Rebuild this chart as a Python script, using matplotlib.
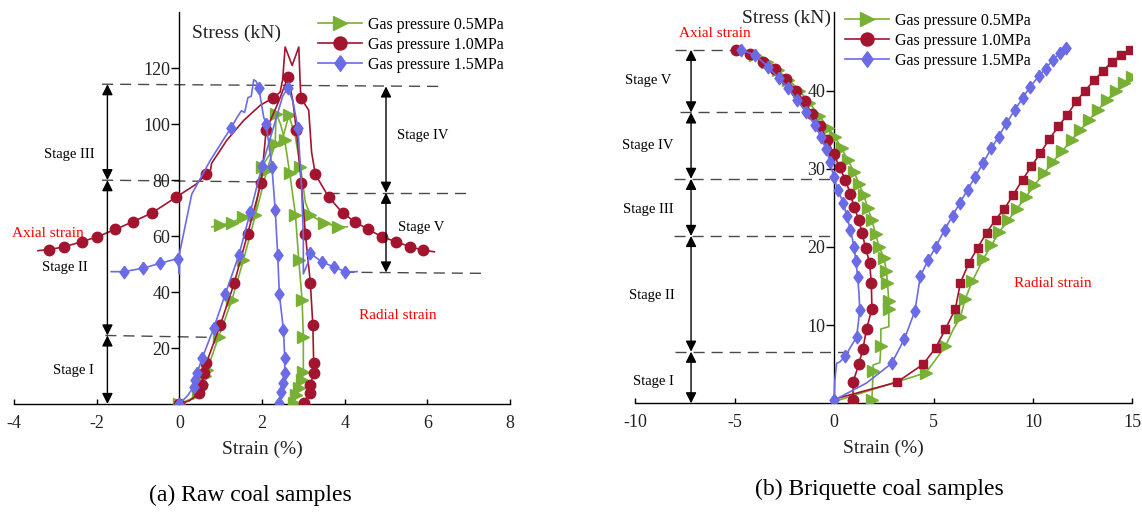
import matplotlib

matplotlib.use("Agg")

import matplotlib.pyplot as plt

plt.rcParams["font.family"] = ["Liberation Serif", "DejaVu Serif"]
plt.rcParams["axes.unicode_minus"] = False

GREEN = "#78B034"
RED = "#A3142F"
BLUE = "#6B6BE6"
LABELS = ["Gas pressure 0.5MPa", "Gas pressure 1.0MPa", "Gas pressure 1.5MPa"]
DIAMOND = [(0, 1), (0.72, 0), (0, -1), (-0.72, 0), (0, 1)]

# ---------------- (a) Raw coal samples ----------------
A_G1_X = [0, 0.3, 0.45, 0.55, 0.62, 0.67, 0.95, 1.27, 1.55, 1.84, 2.12, 2.32, 2.34, 2.45,
          2.55, 2.67, 2.81, 2.89, 2.97, 3.0, 3.0, 2.97, 2.89, 2.83, 2.77]
A_G1_Y = [0, 2, 4, 7, 10, 12, 24, 37.1, 51.4, 67.5, 83.6, 93.1, 103.8, 100,
          94.3, 82.6, 67.5, 51.4, 37.1, 24, 11.5, 8.6, 5.6, 3.2, 0.3]
A_G1_M = [1, 0, 1, 1, 1, 1, 1, 1, 1, 1, 1, 1, 1, 0, 1, 1, 1, 1, 1, 1, 1, 1, 1, 1, 1]

A_G2_X = [0.79, 0.99, 1.27, 1.54, 1.84, 2.0, 2.3, 2.5, 2.65, 2.8, 2.93, 3.05, 3.17, 3.49, 3.85, 4.06]
A_G2_Y = [63.3, 63.9, 64.8, 66.9, 68.5, 84.8, 92.0, 95.0, 103.2, 96.0, 84.8, 72.0, 67.5, 64.8, 63.3, 63.3]
A_G2_M = [0, 1, 1, 1, 0, 1, 0, 0, 1, 0, 1, 0, 1, 1, 1, 0]

A_R1_X = [0, 0.25, 0.47, 0.55, 0.59, 0.65, 0.99, 1.33, 1.65, 1.98, 2.1, 2.4, 2.63, 2.75,
          2.83, 2.95, 3.05, 3.17, 3.23, 3.25, 3.25, 3.17, 3.15, 3.01]
A_R1_Y = [0, 1.2, 3.8, 6.8, 11, 14.5, 28.2, 43.3, 60.7, 79, 97.9, 108, 116.9, 108,
          97.9, 79, 60.7, 43.3, 28.2, 14.8, 11, 6.8, 3.8, 0.5]
A_R1_M = [1, 0, 1, 1, 1, 1, 1, 1, 1, 1, 1, 0, 1, 0, 1, 1, 1, 1, 1, 1, 1, 1, 1, 1]

A_R2_X = [-3.42, -3.15, -2.78, -2.36, -1.98, -1.55, -1.13, -0.66, -0.07, 0.4,
          0.65, 0.72, 0.78, 1.15, 1.56, 1.96, 2.27, 2.44, 2.5, 2.56,
          2.73, 2.89, 2.92, 2.94, 3.13, 3.2, 3.29, 3.61, 3.95, 4.25,
          4.57, 4.9, 5.24, 5.59, 5.89, 6.17]
A_R2_Y = [54.8, 55.2, 56.2, 58.0, 59.8, 62.4, 65.1, 68.3, 74.0, 78.5,
          82.1, 80.5, 86, 94.3, 101.4, 106.8, 109.4, 111.5, 116, 127.6,
          121, 127.6, 116, 109.4, 105, 90, 82.1, 74.0, 68.3, 65.1,
          62.4, 59.8, 58.0, 56.2, 55.0, 54.4]
A_R2_M = [0, 1, 1, 1, 1, 1, 1, 1, 1, 0,
          1, 0, 0, 0, 0, 0, 1, 0, 0, 0,
          0, 0, 0, 1, 0, 0, 1, 1, 1, 1,
          1, 1, 1, 1, 1, 0]

A_B1_X = [-1.65, -1.35, -0.89, -0.46, -0.04, 0.0, 0.0, 0.3, 0.75, 1.11,
          1.25, 1.4, 1.5, 1.58, 1.66, 1.74, 1.8, 1.86, 1.92, 2.04,
          2.1, 2.24, 2.32, 2.38, 2.42, 2.52, 2.55, 2.55, 2.52, 2.47, 2.4]
A_B1_Y = [47.3, 47.3, 48.5, 50.3, 52.0, 46.5, 53.5, 75.0, 87.1, 95.5,
          98.7, 102.5, 104.8, 104.2, 109.5, 110.0, 115.9, 115.3, 113.1, 102.6,
          100.0, 84.8, 69.3, 53.2, 39.2, 26.4, 16.3, 11.0, 7.6, 4.4, 0.5]
A_B1_M = [0, 1, 1, 1, 1, 0, 0, 0, 0, 0,
          1, 0, 0, 0, 0, 0, 0, 0, 1, 0,
          1, 1, 1, 1, 1, 1, 1, 1, 1, 1, 1]

A_B2_X = [0, 0.2, 0.35, 0.39, 0.43, 0.55, 0.83, 1.11, 1.44, 1.72,
          2.0, 2.3, 2.5, 2.63, 2.75, 2.87, 2.95, 3.0, 3.0, 3.1,
          3.17, 3.45, 3.73, 4.02, 4.3]
A_B2_Y = [0, 3, 6.2, 8.6, 11, 16.3, 27, 39.2, 53.2, 68.7,
          85, 100, 110, 113.1, 108, 98.7, 80, 60, 46.5, 50,
          53.8, 50.8, 49.0, 47.3, 47.3]
A_B2_M = [1, 0, 1, 1, 1, 1, 1, 1, 1, 1,
          1, 0, 0, 1, 0, 1, 0, 0, 0, 0,
          1, 1, 1, 1, 0]

# stage boundaries (x0, x1, y0, y1) and arrows (x, y_top, y_bottom)
A_DASHES = [(-1.87, 6.43, 114.3, 113.5), (-1.87, 1.89, 80.0, 79.4), (3.15, 6.94, 75.5, 75.5),
            (3.97, 7.33, 47.1, 46.7), (-1.79, 0.85, 24.5, 23.8)]
A_ARROWS = [(-1.74, 114.3, 80.0), (-1.74, 80.0, 24.5), (-1.74, 24.5, 0.0),
            (5.0, 113.5, 75.5), (5.0, 75.5, 47.0)]
A_STAGES = [("Stage III", -2.65, 89.3), ("Stage II", -2.78, 48.9), ("Stage I", -2.56, 11.8),
            ("Stage IV", 5.9, 96.0), ("Stage V", 5.86, 63.0)]

# ---------------- (b) Briquette coal samples ----------------
B_G1_X = [-4.6, -4.0, -3.4, -2.85, -2.3, -1.75, -1.25, -0.75, -0.3, 0.05,
          0.37, 0.69, 1.0, 1.24, 1.49, 1.69, 1.9, 2.08, 2.26, 2.5,
          2.63, 2.68, 2.75, 2.75, 2.75, 2.35, 2.35, 2.3, 1.96, 1.96, 1.9]
B_G1_Y = [45.2, 44.6, 43.6, 42.6, 41.4, 40.0, 38.4, 36.8, 35.2, 34.0,
          32.6, 31.1, 29.6, 28.1, 26.6, 25.0, 23.4, 21.7, 20.0, 18.6,
          16.9, 15.4, 13.1, 12.0, 9.8, 9.5, 7.3, 5.2, 4.9, 4.1, 0.4]
B_G1_M = [0, 1, 1, 1, 1, 1, 1, 1, 1, 1,
          1, 1, 1, 1, 1, 1, 1, 1, 1, 1,
          1, 1, 1, 1, 0, 0, 1, 0, 0, 1, 1]

B_R1_X = [-4.95, -4.22, -3.56, -2.97, -2.43, -1.94, -1.49, -1.11, -0.71, -0.35,
          -0.03, 0.28, 0.55, 0.82, 1.0, 1.24, 1.4, 1.58, 1.78, 1.87,
          1.9, 1.63, 1.45, 1.24, 0.95, 0.95]
B_R1_Y = [45.2, 44.7, 43.7, 42.7, 41.5, 40.0, 38.6, 37.0, 35.4, 33.7,
          31.9, 30.2, 28.6, 26.8, 25.1, 23.5, 21.8, 19.9, 18.0, 15.4,
          12.1, 9.5, 7.0, 5.0, 2.7, 0.4]
B_R1_M = [1] * 26

B_B1_X = [-4.7, -3.96, -3.32, -2.79, -2.3, -1.89, -1.43, -0.98, -0.67, -0.4,
          -0.2, -0.03, 0.19, 0.46, 0.64, 0.82, 1.0, 1.09, 1.18, 1.25,
          1.29, 1.13, 0.55, 0.29, 0.12, 0.03, 0.0]
B_B1_Y = [45.2, 44.5, 43.0, 41.6, 40.3, 38.8, 37.3, 35.6, 34.1, 32.5,
          30.8, 29.0, 27.3, 25.6, 23.9, 22.2, 20.0, 18.2, 16.2, 14.0,
          11.9, 8.5, 6.0, 5.3, 5.1, 2.8, 0.4]
B_B1_M = [1, 1, 1, 1, 1, 1, 1, 1, 1, 1,
          1, 1, 1, 1, 1, 1, 1, 1, 1, 0,
          1, 1, 1, 0, 0, 0, 1]

B_G2_X = [0.1, 4.61, 5.6, 6.0, 6.35, 6.59, 6.95, 7.49, 7.91, 8.3, 8.75, 9.2, 9.65,
          10.07, 10.56, 11.0, 11.46, 11.95, 12.36, 12.81, 13.26, 13.71, 14.16, 14.58, 14.98]
B_G2_Y = [0.3, 3.9, 7.3, 9.5, 11.0, 13.3, 15.6, 18.4, 20.2, 21.9, 23.4, 24.9, 26.4,
          27.9, 29.4, 30.9, 32.2, 33.7, 34.9, 36.2, 37.5, 38.8, 39.9, 41.0, 41.7]
B_G2_M = [0, 1, 1, 0] + [1] * 21

B_R2_X = [0.1, 3.16, 4.48, 5.11, 5.6, 6.1, 6.35, 6.77, 7.22, 7.67, 8.12, 8.57, 9.02,
          9.48, 9.92, 10.38, 10.83, 11.28, 11.73, 12.18, 12.63, 13.08, 13.53, 13.98, 14.43, 14.88]
B_R2_Y = [0.6, 2.7, 5.0, 7.1, 9.5, 12.1, 15.4, 17.9, 19.9, 21.8, 23.5, 24.9, 26.7,
          28.6, 30.3, 32.0, 33.8, 35.4, 36.9, 38.6, 40.0, 41.3, 42.5, 43.7, 44.5, 45.2]
B_R2_M = [0] + [1] * 25

B_B2_X = [0.0, 1.63, 2.89, 3.53, 4.06, 4.34, 4.73, 5.11, 5.56, 5.96, 6.32, 6.71, 7.1,
          7.49, 7.91, 8.27, 8.66, 9.08, 9.48, 9.83, 10.29, 10.64, 11.0, 11.37, 11.64]
B_B2_Y = [0.4, 2.6, 5.1, 8.2, 11.8, 16.3, 18.3, 20.0, 22.2, 24.0, 25.6, 27.3, 29.0,
          30.7, 32.6, 34.1, 35.8, 37.5, 39.0, 40.4, 41.8, 42.8, 43.9, 44.8, 45.4]
B_B2_M = [0, 0] + [1] * 23

B_DASHES = [(-8.0, -5.0, 45.2, 45.2), (-7.77, -1.7, 37.2, 37.2), (-8.06, 0.0, 28.7, 28.7),
            (-8.06, 0.0, 21.4, 21.4), (-8.0, 0.8, 6.6, 6.6)]
B_ARROWS = [(-7.2, 45.2, 37.2), (-7.2, 37.2, 28.7), (-7.2, 28.7, 21.4),
            (-7.2, 21.4, 6.6), (-7.2, 6.6, 0.0)]
B_STAGES = [("Stage V", -9.36, 41.3), ("Stage IV", -9.36, 33.0), ("Stage III", -9.36, 24.8),
            ("Stage II", -9.18, 13.8), ("Stage I", -9.1, 2.85)]


def curve(ax, x, y, m, color, marker, ms, label=None):
    ax.plot(x, y, color=color, lw=1.2, marker=marker, ms=ms, mec=color, mfc=color,
            markevery=[bool(v) for v in m], label=label, zorder=3)


def style(ax, xlim, ylim, xticks, yticks):
    ax.set_xlim(*xlim)
    ax.set_ylim(*ylim)
    for s in ("top", "right"):
        ax.spines[s].set_visible(False)
    ax.spines["left"].set_position(("data", 0))
    for s in ("left", "bottom"):
        ax.spines[s].set_linewidth(1.0)
    ax.set_xticks(xticks)
    ax.set_yticks(yticks)
    ax.tick_params(axis="x", direction="in", length=3.4, width=1, pad=8,
                   labelsize=13, labelcolor="#222222")
    ax.tick_params(axis="y", direction="out", length=5.5, width=1, pad=1,
                   labelsize=13, labelcolor="#222222")
    ax.set_xlabel("Strain (%)", fontsize=14, labelpad=6, color="#222222")


def stages(ax, dashes, arrows, texts):
    for x0, x1, y0, y1 in dashes:
        ax.plot([x0, x1], [y0, y1], color="#4a4a4a", lw=1.0, dashes=(8, 5), zorder=1)
    for x, yt, yb in arrows:
        ax.annotate("", xy=(x, yt), xytext=(x, yb),
                    arrowprops=dict(arrowstyle="<|-|>", color="black", lw=1.0,
                                    mutation_scale=16, shrinkA=0, shrinkB=0))
    for t, x, y in texts:
        ax.text(x, y, t, fontsize=10.5, ha="center", va="center", clip_on=False)


fig = plt.figure(figsize=(11.42, 5.12), dpi=100)
W, H = 1142, 512
ax1 = fig.add_axes([14 / W, (H - 404) / H, 496 / W, 391.7 / H])
ax2 = fig.add_axes([635.4 / W, (H - 403.3) / H, 496.9 / W, 391 / H])

# panel (a)
curve(ax1, A_G1_X, A_G1_Y, A_G1_M, GREEN, ">", 8, LABELS[0])
curve(ax1, A_G2_X, A_G2_Y, A_G2_M, GREEN, ">", 8)
curve(ax1, A_R1_X, A_R1_Y, A_R1_M, RED, "o", 7.5, LABELS[1])
curve(ax1, A_R2_X, A_R2_Y, A_R2_M, RED, "o", 7.5)
curve(ax1, A_B1_X, A_B1_Y, A_B1_M, BLUE, DIAMOND, 9)
curve(ax1, A_B2_X, A_B2_Y, A_B2_M, BLUE, DIAMOND, 9, LABELS[2])
style(ax1, (-4, 8), (0, 140), [-4, -2, 0, 2, 4, 6, 8], [20, 40, 60, 80, 100, 120])
stages(ax1, A_DASHES, A_ARROWS, A_STAGES)
ax1.text(1.39, 132.6, "Stress (kN)", fontsize=14, ha="center", va="center", color="#222222")
ax1.text(-3.17, 61, "Axial strain", fontsize=11, color="red", ha="center", va="center")
ax1.text(5.28, 31.7, "Radial strain", fontsize=11, color="red", ha="center", va="center")

# panel (b)
curve(ax2, B_G1_X, B_G1_Y, B_G1_M, GREEN, ">", 8, LABELS[0])
curve(ax2, B_G2_X, B_G2_Y, B_G2_M, GREEN, ">", 8)
curve(ax2, B_R1_X, B_R1_Y, B_R1_M, RED, "o", 7.5, LABELS[1])
curve(ax2, B_R2_X, B_R2_Y, B_R2_M, RED, "s", 6)
curve(ax2, B_B1_X, B_B1_Y, B_B1_M, BLUE, DIAMOND, 9, LABELS[2])
curve(ax2, B_B2_X, B_B2_Y, B_B2_M, BLUE, DIAMOND, 9)
style(ax2, (-10, 15), (0, 50), [-10, -5, 0, 5, 10, 15], [10, 20, 30, 40])
stages(ax2, B_DASHES, B_ARROWS, B_STAGES)
ax2.text(-0.17, 49.2, "Stress (kN)", fontsize=14, ha="right", va="center", color="#222222")
ax2.text(-6.0, 47.3, "Axial strain", fontsize=11, color="red", ha="center", va="center")
ax2.text(11.0, 15.3, "Radial strain", fontsize=11, color="red", ha="center", va="center")

for ax, x0, y0 in ((ax1, 318, 17), (ax2, 845, 13)):
    ax.legend(loc="upper left", bbox_to_anchor=(x0 / W, 1 - y0 / H), bbox_transform=fig.transFigure,
              frameon=False, fontsize=11.5, borderpad=0, borderaxespad=0, markerscale=1.25,
              handlelength=2.75, handletextpad=0.4, labelspacing=0.25)

fig.text(250 / W, 1 - 495 / H, "(a) Raw coal samples", fontsize=17, ha="center", va="center")
fig.text(879 / W, 1 - 489 / H, "(b) Briquette coal samples", fontsize=17, ha="center", va="center")

fig.savefig("out.png", dpi=100, facecolor="white")
